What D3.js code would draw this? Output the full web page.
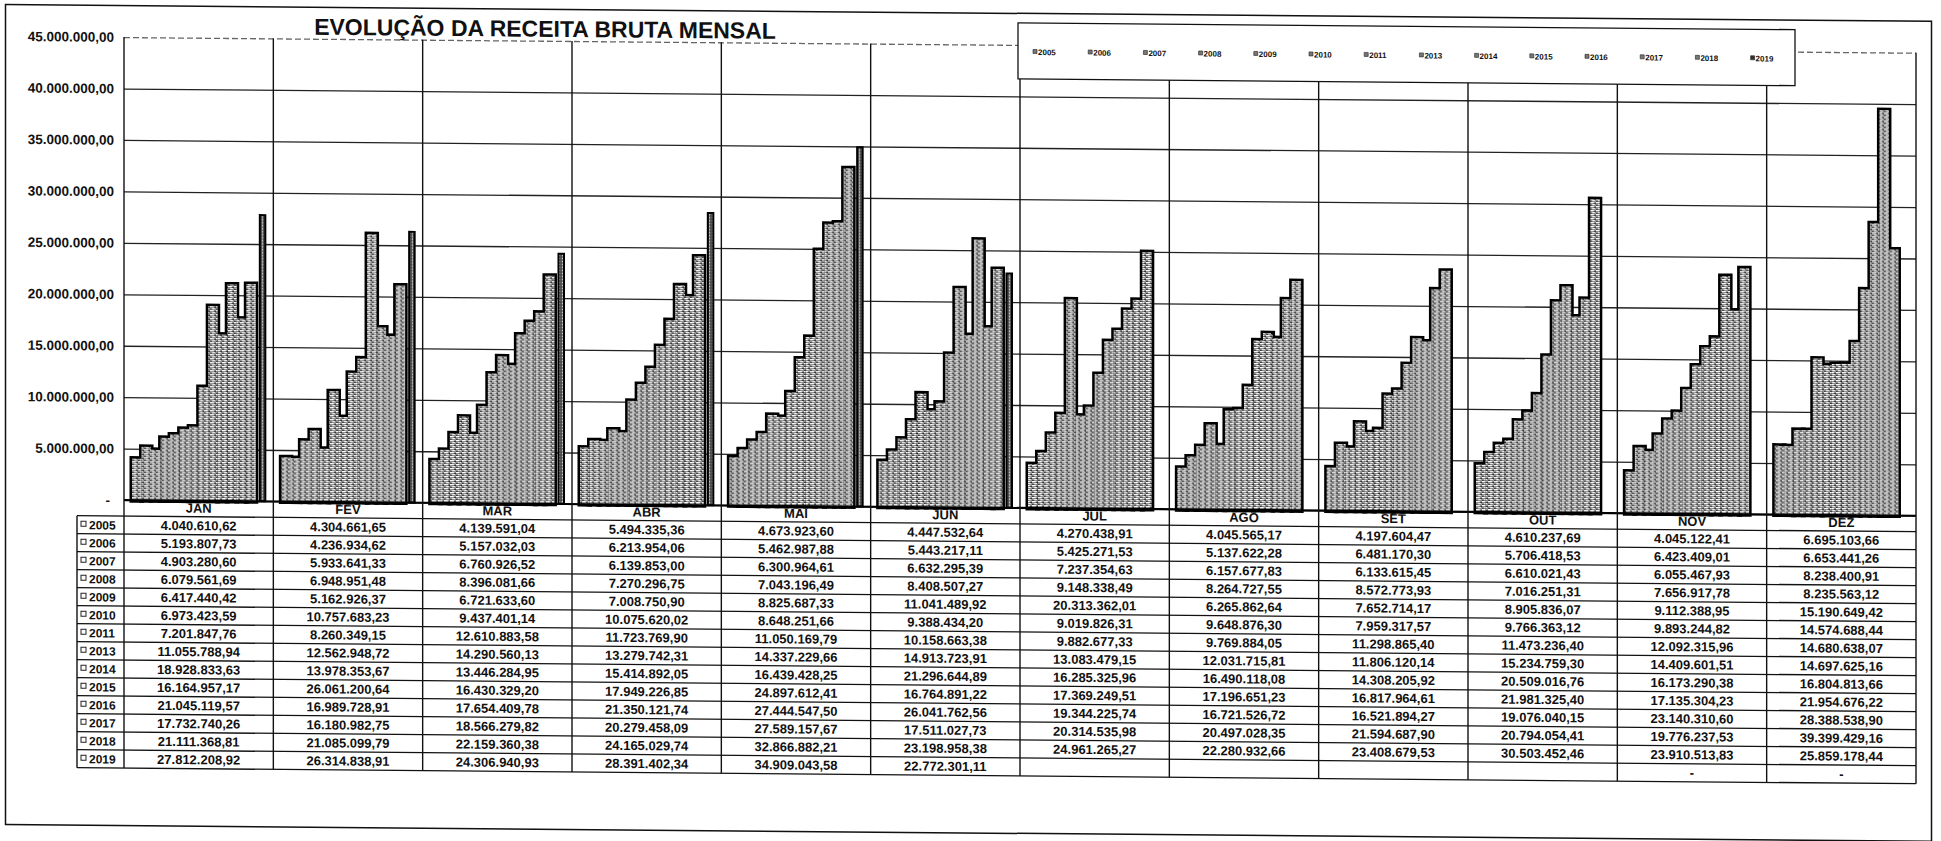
<!DOCTYPE html>
<html>
<head>
<meta charset="utf-8">
<script src="https://cdn.jsdelivr.net/npm/d3@7"></script>
<style>
  body { margin: 0; background: #fff; }
  svg { display: block; }
  text { font-family: "Liberation Sans", Arial, sans-serif; font-weight: bold; fill: #111; }
</style>
</head>
<body>
<svg id="chart"></svg>
<script>
var months = ['JAN', 'FEV', 'MAR', 'ABR', 'MAI', 'JUN', 'JUL', 'AGO', 'SET', 'OUT', 'NOV', 'DEZ'];
var years = ['2005', '2006', '2007', '2008', '2009', '2010', '2011', '2013', '2014', '2015', '2016', '2017', '2018', '2019'];
var yTicks = [0, 5e6, 10e6, 15e6, 20e6, 25e6, 30e6, 35e6, 40e6, 45e6];

// receita por ano, JAN..DEZ
var v2005 = [4040610.62, 4304661.65, 4139591.04, 5494335.36, 4673923.60, 4447532.64, 4270438.91, 4045565.17, 4197604.47, 4610237.69, 4045122.41, 6695103.66];
var v2006 = [5193807.73, 4236934.62, 5157032.03, 6213954.06, 5462987.88, 5443217.11, 5425271.53, 5137622.28, 6481170.30, 5706418.53, 6423409.01, 6653441.26];
var v2007 = [4903280.60, 5933641.33, 6760926.52, 6139853.00, 6300964.61, 6632295.39, 7237354.63, 6157677.83, 6133615.45, 6610021.43, 6055467.93, 8238400.91];
var v2008 = [6079561.69, 6948951.48, 8396081.66, 7270296.75, 7043196.49, 8408507.27, 9148338.49, 8264727.55, 8572773.93, 7016251.31, 7656917.78, 8235563.12];
var v2009 = [6417440.42, 5162926.37, 6721633.60, 7008750.90, 8825687.33, 11041489.92, 20313362.01, 6265862.64, 7652714.17, 8905836.07, 9112388.95, 15190649.42];
var v2010 = [6973423.59, 10757683.23, 9437401.14, 10075620.02, 8648251.66, 9388434.20, 9019826.31, 9648876.30, 7959317.57, 9766363.12, 9893244.82, 14574688.44];
var v2011 = [7201847.76, 8260349.15, 12610883.58, 11723769.90, 11050169.79, 10158663.38, 9882677.33, 9769884.05, 11298865.40, 11473236.40, 12092315.96, 14680638.07];
var v2013 = [11055788.94, 12562948.72, 14290560.13, 13279742.31, 14337229.66, 14913723.91, 13083479.15, 12031715.81, 11806120.14, 15234759.30, 14409601.51, 14697625.16];
var v2014 = [18928833.63, 13978353.67, 13446284.95, 15414892.05, 16439428.25, 21296644.89, 16285325.96, 16490118.08, 14308205.92, 20509016.76, 16173290.38, 16804813.66];
var v2015 = [16164957.17, 26061200.64, 16430329.20, 17949226.85, 24897612.41, 16764891.22, 17369249.51, 17196651.23, 16817964.61, 21981325.40, 17135304.23, 21954676.22];
var v2016 = [21045119.57, 16989728.91, 17654409.78, 21350121.74, 27444547.50, 26041762.56, 19344225.74, 16721526.72, 16521894.27, 19076040.15, 23140310.60, 28388538.90];
var v2017 = [17732740.26, 16180982.75, 18566279.82, 20279458.09, 27589157.67, 17511027.73, 20314535.98, 20497028.35, 21594687.90, 20794054.41, 19776237.53, 39399429.16];
var v2018 = [21111368.81, 21085099.79, 22159360.38, 24165029.74, 32866882.21, 23198958.38, 24961265.27, 22280932.66, 23408679.53, 30503452.46, 23910513.83, 25859178.44];
var v2019 = [27812208.92, 26314838.91, 24306940.93, 28391402.34, 34909043.58, 22772301.11, null, null, null, null, null, null];
var emptyMark = ['', '', '', '', '', '', '', '', '', '', '-', '-'];

var yearValues = [v2005, v2006, v2007, v2008, v2009, v2010, v2011, v2013, v2014, v2015, v2016, v2017, v2018, v2019];

var W = 1941, H = 841;
var br = d3.formatLocale({decimal: ',', thousands: '.', grouping: [3], currency: ['R$', '']});
var fmt = br.format(',.2f');

var svg = d3.select('#chart').attr('width', W).attr('height', H);

// halftone-like fills of the scanned print
var defs = svg.append('defs');
var tex = defs.append('pattern').attr('id', 'tex').attr('patternUnits', 'userSpaceOnUse')
  .attr('width', 6).attr('height', 4);
tex.append('rect').attr('width', 6).attr('height', 4).attr('fill', '#8e8e8e');
tex.append('rect').attr('x', 0).attr('y', 0).attr('width', 4).attr('height', 1).attr('fill', '#fff');
tex.append('rect').attr('x', 4).attr('y', 1).attr('width', 2).attr('height', 1).attr('fill', '#2e2e2e');
tex.append('rect').attr('x', 2).attr('y', 2).attr('width', 3).attr('height', 1).attr('fill', '#f2f2f2');
tex.append('rect').attr('x', 0).attr('y', 3).attr('width', 2).attr('height', 1).attr('fill', '#3a3a3a');

var tex2 = defs.append('pattern').attr('id', 'tex2').attr('patternUnits', 'userSpaceOnUse')
  .attr('width', 3).attr('height', 3);
tex2.append('rect').attr('width', 3).attr('height', 3).attr('fill', '#444');
tex2.append('rect').attr('x', 1).attr('y', 0).attr('width', 1).attr('height', 3).attr('fill', '#9a9a9a');
tex2.append('rect').attr('x', 1).attr('y', 1).attr('width', 1).attr('height', 1).attr('fill', '#fff');

// the scan is slightly tilted
var root = svg.append('g').attr('transform', 'skewY(0.5)');

root.append('rect')
  .attr('x', 5.5).attr('y', 4.5).attr('width', 1926).attr('height', 820)
  .attr('fill', 'none').attr('stroke', '#111').attr('stroke-width', 1.5);

var plotLeft = 124, plotRight = 1916, plotTop = 36, baseY = 499;
var rowTop = 515, rowH = 18;
var tableBottom = rowTop + rowH * years.length;

var y = d3.scaleLinear().domain([0, 45000000]).range([baseY, plotTop]);
var x0 = d3.scaleBand().domain(months).range([plotLeft, plotRight]);
var x1 = d3.scaleBand().domain(years).range([8, x0.bandwidth() - 8]);

// grid + y labels
var yAxis = d3.axisLeft(y)
  .tickValues(yTicks)
  .tickSize(-(plotRight - plotLeft))
  .tickPadding(10)
  .tickFormat(function(d) { return d === 0 ? '-' : fmt(d); });

var ya = root.append('g').attr('transform', 'translate(' + plotLeft + ',0)').call(yAxis);
ya.select('.domain').remove();
ya.selectAll('line').attr('stroke', '#222').attr('stroke-width', 1.3);
ya.selectAll('.tick').filter(function(d) { return d === 45e6; }).select('line')
  .attr('stroke', '#666').attr('stroke-dasharray', '6,3');
ya.selectAll('text').attr('font-size', 13.5).attr('fill', '#111')
  .style('font-family', '"Liberation Sans", Arial, sans-serif').style('font-weight', 'bold');
ya.selectAll('.tick').filter(function(d) { return d === 0; }).select('text').attr('dx', -4);

// title
root.append('text')
  .attr('x', 545).attr('y', 32)
  .attr('text-anchor', 'middle')
  .attr('font-size', 23)
  .text('EVOLUÇÃO DA RECEITA BRUTA MENSAL');

// bars
var bars = [];
months.forEach(function(m, mi) {
  years.forEach(function(yr, si) {
    var v = yearValues[si][mi];
    if (v != null) bars.push({month: m, year: yr, value: v, last: si === years.length - 1});
  });
});
var light = bars.filter(function(d) { return !d.last; });
var dark = bars.filter(function(d) { return d.last; });

var barG = root.append('g');
// thick strokes underneath, fills on top: only the outer step contour stays visible
barG.selectAll('rect.edge')
  .data(light)
  .enter()
  .append('rect')
  .attr('class', 'edge')
  .attr('x', function(d) { return x0(d.month) + x1(d.year); })
  .attr('y', function(d) { return y(d.value); })
  .attr('width', x1.bandwidth())
  .attr('height', function(d) { return baseY - y(d.value); })
  .attr('fill', '#000')
  .attr('stroke', '#000')
  .attr('stroke-width', 5);

barG.selectAll('rect.fill')
  .data(light)
  .enter()
  .append('rect')
  .attr('class', 'fill')
  .attr('x', function(d) { return x0(d.month) + x1(d.year); })
  .attr('y', function(d) { return y(d.value); })
  .attr('width', x1.bandwidth())
  .attr('height', function(d) { return baseY - y(d.value); })
  .attr('fill', 'url(#tex)');

barG.selectAll('rect.last')
  .data(dark)
  .enter()
  .append('rect')
  .attr('class', 'last')
  .attr('x', function(d) { return x0(d.month) + x1(d.year) + 4; })
  .attr('y', function(d) { return y(d.value); })
  .attr('width', x1.bandwidth() - 4)
  .attr('height', function(d) { return baseY - y(d.value); })
  .attr('fill', 'url(#tex2)')
  .attr('stroke', '#000')
  .attr('stroke-width', 2);

// baseline and column separators
root.append('line')
  .attr('x1', plotLeft).attr('x2', plotRight).attr('y1', baseY).attr('y2', baseY)
  .attr('stroke', '#000').attr('stroke-width', 2);

var seps = months.map(function(m) { return x0(m); }).concat([plotRight]);
root.selectAll('line.sep')
  .data(seps)
  .enter()
  .append('line')
  .attr('class', 'sep')
  .attr('x1', function(d) { return d; }).attr('x2', function(d) { return d; })
  .attr('y1', plotTop).attr('y2', tableBottom)
  .attr('stroke', '#111').attr('stroke-width', 1.4);

// legend
var lg = root.append('g');
lg.append('rect')
  .attr('x', 1018).attr('y', 14).attr('width', 777).attr('height', 56)
  .attr('fill', '#fff').attr('stroke', '#111').attr('stroke-width', 1.3);
var li = lg.selectAll('g.item')
  .data(years)
  .enter()
  .append('g')
  .attr('class', 'item')
  .attr('transform', function(d, i) { return 'translate(' + (1033 + i * 55.2) + ',43)'; });
li.append('rect')
  .attr('x', 0).attr('y', -2.5).attr('width', 4).attr('height', 4)
  .attr('fill', function(d, i) { return i === years.length - 1 ? '#333' : '#777'; })
  .attr('stroke', '#222').attr('stroke-width', 0.6);
li.append('text')
  .attr('x', 5).attr('y', 3)
  .attr('font-size', 8)
  .text(function(d) { return d; });

// table
var tbl = root.append('g');
tbl.selectAll('text.month')
  .data(months)
  .enter()
  .append('text')
  .attr('class', 'month')
  .attr('x', function(d) { return x0(d) + x0.bandwidth() / 2; })
  .attr('y', baseY + 12)
  .attr('text-anchor', 'middle')
  .attr('font-size', 13)
  .text(function(d) { return d; });

var rowLines = d3.range(years.length + 1);
tbl.selectAll('line.row')
  .data(rowLines)
  .enter()
  .append('line')
  .attr('class', 'row')
  .attr('x1', 77).attr('x2', plotRight)
  .attr('y1', function(d) { return rowTop + d * rowH; })
  .attr('y2', function(d) { return rowTop + d * rowH; })
  .attr('stroke', '#111').attr('stroke-width', 1.3);

tbl.append('line')
  .attr('x1', 77).attr('x2', 77).attr('y1', rowTop).attr('y2', tableBottom)
  .attr('stroke', '#111').attr('stroke-width', 1.4);

var rows = tbl.selectAll('g.trow')
  .data(years)
  .enter()
  .append('g')
  .attr('class', 'trow')
  .attr('transform', function(d, i) { return 'translate(0,' + (rowTop + i * rowH + rowH / 2) + ')'; });

rows.append('rect')
  .attr('x', 81).attr('y', -3.5).attr('width', 5).attr('height', 5)
  .attr('fill', '#fff').attr('stroke', '#222').attr('stroke-width', 1);
rows.append('text')
  .attr('x', 89).attr('y', 4.5)
  .attr('font-size', 12)
  .text(function(d) { return d; });

rows.each(function(yr, si) {
  d3.select(this).selectAll('text.val')
    .data(months)
    .enter()
    .append('text')
    .attr('class', 'val')
    .attr('x', function(m) { return x0(m) + x0.bandwidth() / 2; })
    .attr('y', 4.5)
    .attr('text-anchor', 'middle')
    .attr('font-size', 13)
    .text(function(m, mi) {
      var v = yearValues[si][mi];
      return v == null ? emptyMark[mi] : fmt(v);
    });
});
</script>
</body>
</html>
